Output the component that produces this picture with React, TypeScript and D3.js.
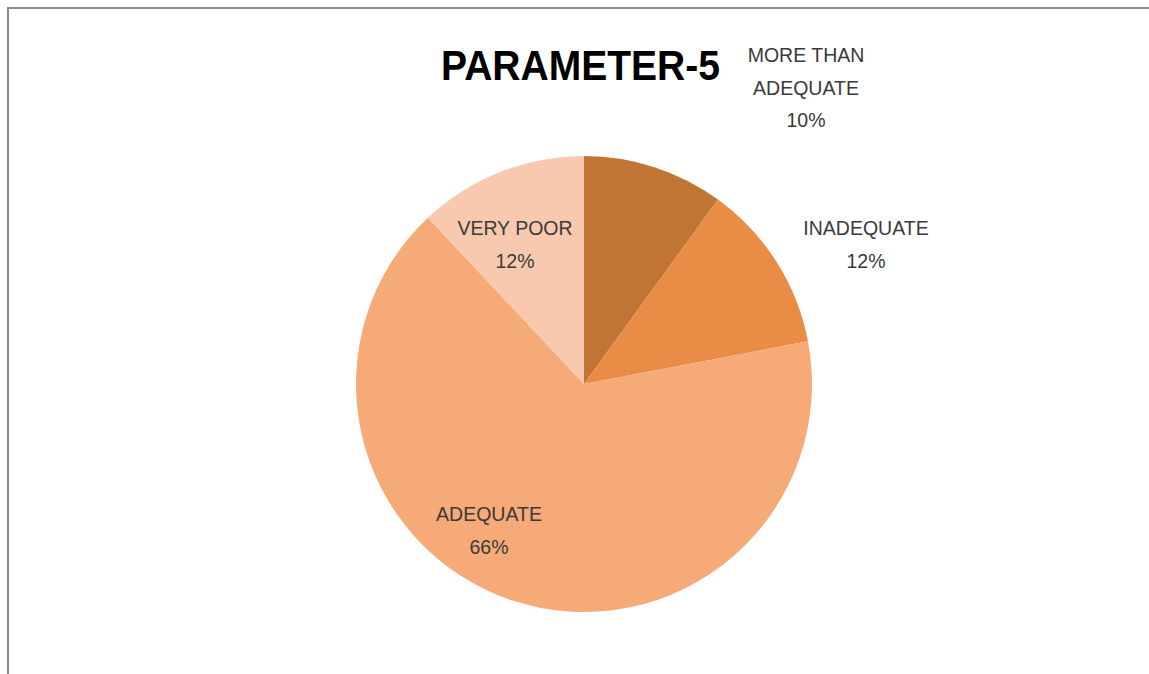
import React, { useMemo } from "react";
import * as d3 from "d3";

const categories = ["MORE THAN ADEQUATE", "INADEQUATE", "ADEQUATE", "VERY POOR"];
const values = [10, 12, 66, 12];
const labelLines = [["MORE THAN", "ADEQUATE", "10%"], ["INADEQUATE", "12%"], ["ADEQUATE", "66%"], ["VERY POOR", "12%"]];
const colors = ["#C07535", "#E98C45", "#F5AA78", "#F8C9AF"];
const title = "PARAMETER-5";

// layout (separate from data)
const W = 1149, H = 674;
const CX = 584, CY = 384, R = 228;
const labelAnchors: [number, number][] = [[806, 62], [866, 235], [489, 521], [515, 235]];
const LINE_H = 32.5;

export default function App() {
  const arcs = useMemo(() => {
    const pie = d3.pie<number>().sort(null).value((d) => d);
    return pie(values);
  }, []);
  const arcGen = d3.arc<d3.PieArcDatum<number>>().innerRadius(0).outerRadius(R);

  return (
    <svg width={W} height={H} style={{ position: "absolute", left: 0, top: 0, background: "#fff" }}>
      <rect x={8} y={8} width={W + 20} height={H + 20} fill="#fff" stroke="#8c8c8c" strokeWidth={2} />
      <g transform={`translate(${CX},${CY})`}>
        {arcs.map((a, i) => (
          <path key={categories[i]} d={arcGen(a) || ""} fill={colors[i]} />
        ))}
      </g>
      <text x={441} y={80} textLength={279} lengthAdjust="spacingAndGlyphs" fontFamily="Liberation Sans, Arial, sans-serif" fontWeight="bold" fontSize={42} fill="#000">
        {title}
      </text>
      {labelLines.map((lines, i) => (
        <text key={categories[i]} textAnchor="middle" fontFamily="Liberation Sans, Arial, sans-serif" fontSize={19.5} fill="#3a3a3a">
          {lines.map((l, j) => (
            <tspan key={j} x={labelAnchors[i][0]} y={labelAnchors[i][1] + j * LINE_H}>{l}</tspan>
          ))}
        </text>
      ))}
    </svg>
  );
}
